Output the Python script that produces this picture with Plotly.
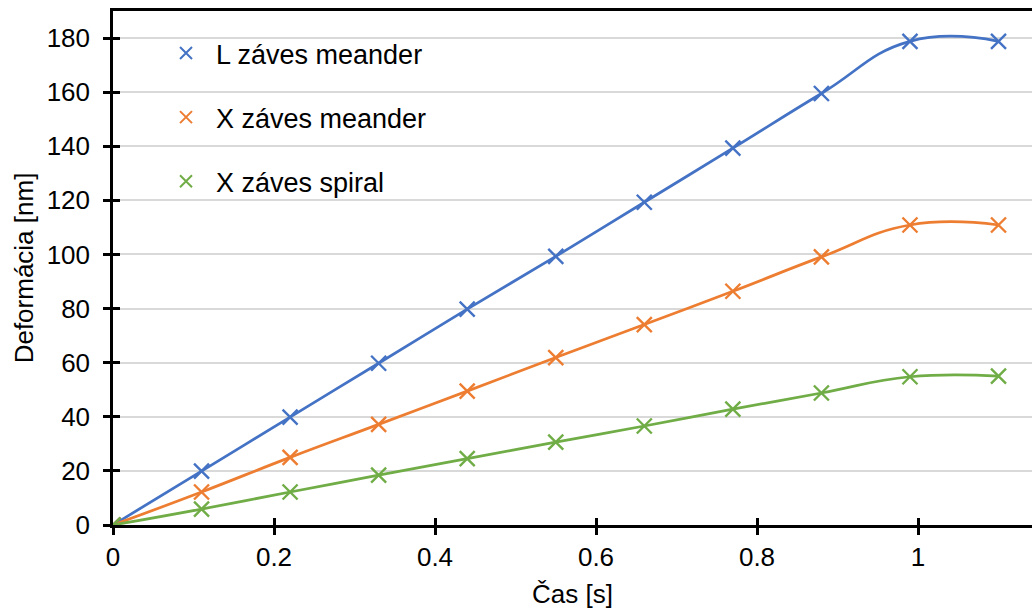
import plotly.graph_objects as go

cas = [0, 0.11, 0.22, 0.33, 0.44, 0.55, 0.66, 0.77, 0.88, 0.99, 1.1]
l_meander = [0, 19.9, 39.9, 59.8, 79.8, 99.3, 119.3, 139.3, 159.5, 178.8, 178.8]
x_meander = [0, 12.2, 25.0, 37.2, 49.5, 61.9, 74.1, 86.4, 99.1, 110.9, 110.9]
x_spiral = [0, 5.9, 12.2, 18.4, 24.5, 30.6, 36.6, 42.8, 48.8, 54.8, 55.0]

series = [
    ("L záves meander", l_meander, "#4472C4"),
    ("X záves meander", x_meander, "#ED7D31"),
    ("X záves spiral", x_spiral, "#70AD47"),
]

FONT = "Liberation Sans, Arial, sans-serif"
FS = 26
fig = go.Figure()
for i, (name, vals, col) in enumerate(series):
    fig.add_trace(go.Scatter(x=cas, y=vals, mode="lines", line=dict(color=col, width=2.75, shape="spline", smoothing=1.3),
                             showlegend=False, hoverinfo="skip"))
for i, (name, vals, col) in enumerate(series):
    fig.add_trace(go.Scatter(x=cas, y=vals, mode="markers", name=name, legendgroup=f"g{i}",
                             marker=dict(symbol="x-thin-open", size=15, color=col, line=dict(color=col, width=2.4))))

axis_common = dict(showline=True, linecolor="black", linewidth=2.5, tickcolor="black", tickwidth=2.5, ticklen=7,
                   tickfont=dict(family=FONT, size=FS, color="black"), zeroline=False)
fig.update_layout(
    width=1032, height=612,
    margin=dict(l=113, r=0, t=11, b=87),
    paper_bgcolor="white", plot_bgcolor="white",
    font=dict(family=FONT, size=FS, color="black"),
    xaxis=dict(range=[0, 1.1416], tickvals=[0, 0.2, 0.4, 0.6, 0.8, 1.0], ticktext=["0", "0.2", "0.4", "0.6", "0.8", "1"],
               ticks="outside", showgrid=False, mirror=True,
               title=dict(text="Čas [s]", font=dict(family=FONT, size=FS, color="black"), standoff=14), **axis_common),
    yaxis=dict(range=[0, 190], tickvals=list(range(0, 181, 20)), ticks="outside", showgrid=True, gridcolor="#D9D9D9", gridwidth=1.5,
               ticklabelstandoff=8,
               title=dict(text="Deformácia [nm]", font=dict(family=FONT, size=FS, color="black"), standoff=6), **axis_common),
    xaxis2=dict(overlaying="x", matches="x", range=[0, 1.1416], tickvals=[0, 0.2, 0.4, 0.6, 0.8, 1.0], ticks="inside",
                ticklen=7, tickwidth=2.5, tickcolor="black", showticklabels=False, showgrid=False, zeroline=False, side="bottom"),
    yaxis2=dict(overlaying="y", matches="y", range=[0, 190], tickvals=list(range(0, 181, 20)), ticks="inside",
                ticklen=7, tickwidth=2.5, tickcolor="black", showticklabels=False, showgrid=False, zeroline=False, side="left"),
    legend=dict(x=0.0468, y=0.965, xanchor="left", yanchor="top", bgcolor="rgba(0,0,0,0)",
                font=dict(family=FONT, size=27, color="black"), tracegroupgap=26, itemwidth=50, itemsizing="constant"),
)
fig.add_trace(go.Scatter(x=[0], y=[0], xaxis="x2", yaxis="y2", mode="markers", marker=dict(opacity=0), showlegend=False, hoverinfo="skip"))

fig.write_html("out.html")
